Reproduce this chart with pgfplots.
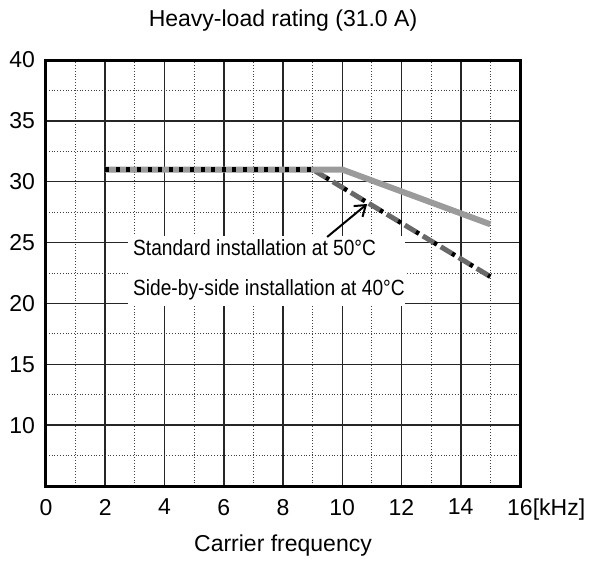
\documentclass[border=0pt]{standalone}
\usepackage{pgfplots}
\pgfplotsset{compat=1.18}
\usepackage{fontspec}
\setmainfont{Liberation Sans}
\newfontfamily\narrowfont{Liberation Sans}[FakeStretch=0.87]
\usetikzlibrary{arrows.meta}

\definecolor{stdgray}{RGB}{155,155,155}
\definecolor{sbsgray}{RGB}{105,105,105}

\begin{document}
\fontsize{11.5}{13}\selectfont
\begin{tikzpicture}
\begin{axis}[
    scale only axis,
    width=237pt, height=213pt,
    xmin=0, xmax=16, ymin=5, ymax=40,
    xtick={0,2,...,16},
    xticklabels={0,2,4,6,8,10,12,14,16\rlap{[kHz]}},
    ytick={10,15,...,40},
    minor xtick={1,3,...,15},
    minor ytick={7.5,12.5,...,37.5},
    grid=both,
    major grid style={black!85, line width=0.75pt},
    minor grid style={black!75, line width=0.4pt, densely dotted},
    major tick length=0pt, minor tick length=0pt,
    axis line style={black, line width=1.5pt},
    /pgf/number format/assume math mode=true,
    tick label style={font=\fontsize{11.5}{13}\selectfont},
    xticklabel style={yshift=-2.5pt},
    yticklabel style={xshift=-1.5pt},
    every axis title shift=0pt,
    title={Heavy-load rating (31.0 A)},
    title style={at={(0.5,1)}, anchor=center, yshift=19.5pt, font=\fontsize{11.5}{13}\selectfont},
    xlabel={Carrier frequency},
    xlabel style={at={(0.5,0)}, anchor=center, yshift=-30pt, font=\fontsize{11.5}{13}\selectfont},
    clip=false,
]
% Side-by-side installation at 40 C (grey dashes)
\addplot[sbsgray, line width=2.5pt, line cap=butt, dash pattern=on 6.5pt off 4pt] coordinates {
    (2,31) (9,31) (15,22.2)
};
% Standard installation at 50 C
\addplot[stdgray, line width=3pt, line cap=butt] coordinates {
    (2,31) (10,31) (15,26.5)
};
% Side-by-side installation at 40 C (black dots)
\addplot[black, line width=2.3pt, line cap=butt, dash pattern=on 2pt off 3.3pt] coordinates {
    (2,31) (9,31)
};
\addplot[black, line width=2.3pt, line cap=butt, dash pattern=on 1.8pt off 8.7pt, dash phase=2.7pt] coordinates {
    (9,31) (15,22.2)
};

% label box
\fill[white] (axis cs:2.77,19.8) rectangle (axis cs:12.12,25.54);
\node[anchor=west, inner sep=0pt, font=\narrowfont\fontsize{11}{13}\selectfont] at (axis cs:2.93,24.56) {Standard installation at 50°C};
\node[anchor=west, inner sep=0pt, font=\narrowfont\fontsize{11}{13}\selectfont] at (axis cs:2.93,21.1) {Side-by-side installation at 40°C};
\draw[black, line width=1pt, -{Straight Barb[length=5pt, width=7pt]}] (axis cs:9.49,25.46) -- (axis cs:10.84,28.17);

% picture extent
\path (rel axis cs:0,0) ++(-23pt,-36.5pt) rectangle ++(303pt,279.5pt);
\end{axis}
\end{tikzpicture}
\end{document}
